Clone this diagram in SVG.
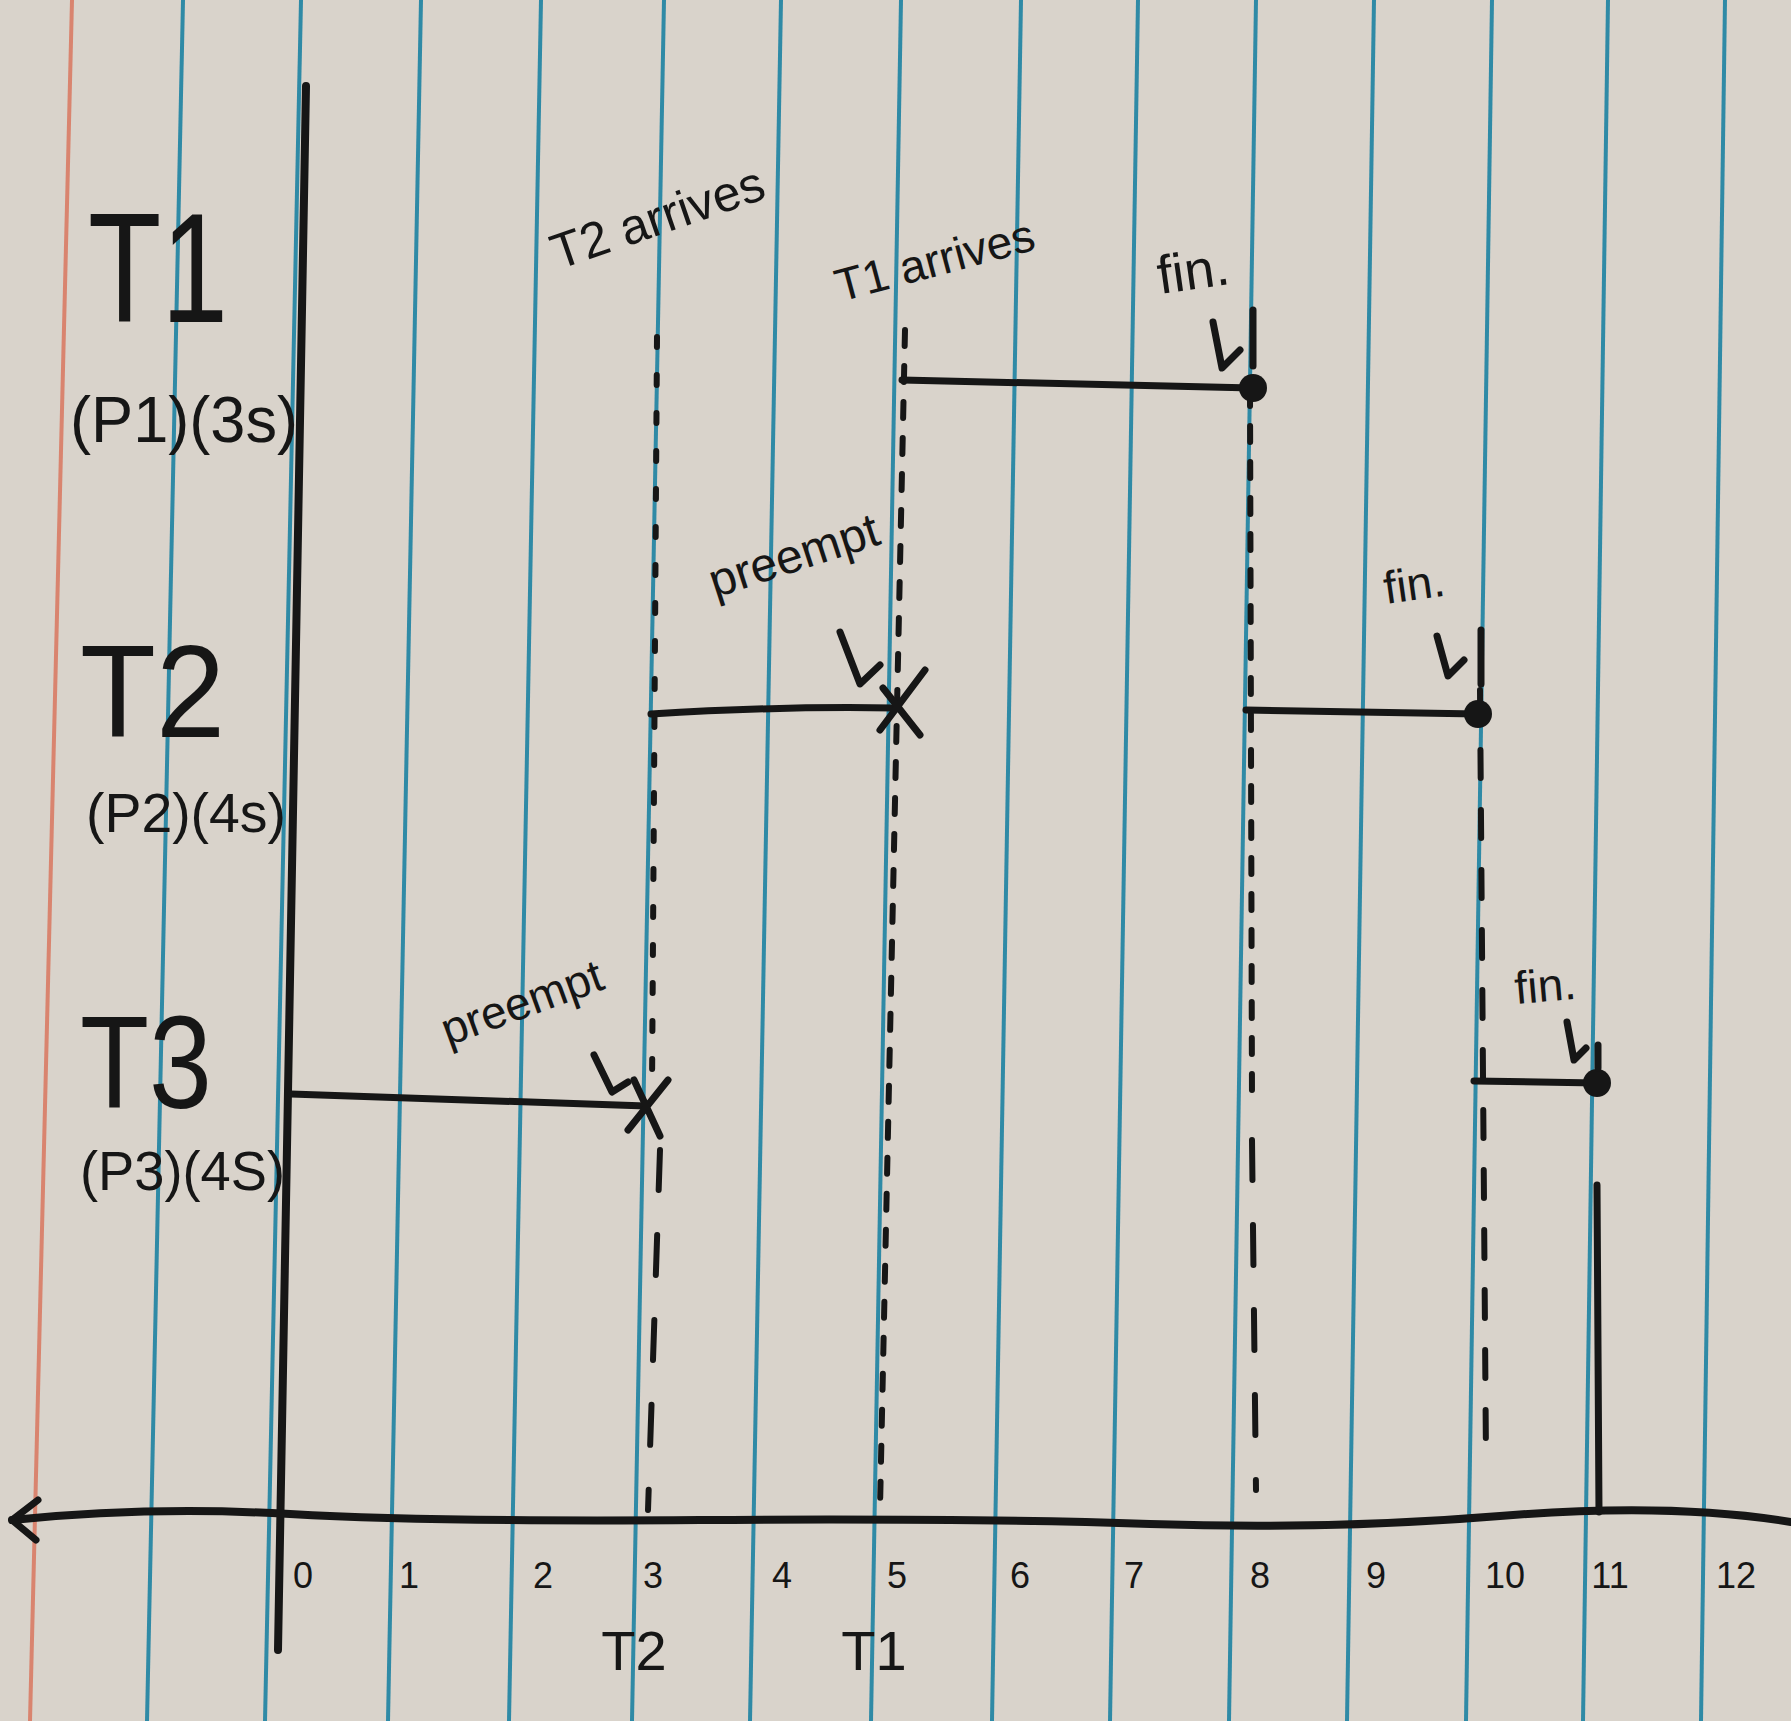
<svg xmlns="http://www.w3.org/2000/svg" width="1791" height="1721" viewBox="0 0 1791 1721">
<style>
.blue{stroke:#2f8aa6;stroke-width:4;fill:none}
.ink{stroke:#161616;stroke-width:7;fill:none;stroke-linecap:round;stroke-linejoin:round}
.dash1{stroke:#161616;stroke-width:6;fill:none;stroke-linecap:round;stroke-dasharray:10 28}
.dash2{stroke:#161616;stroke-width:6;fill:none;stroke-linecap:round;stroke-dasharray:40 45}
.dash3{stroke:#161616;stroke-width:6;fill:none;stroke-linecap:round;stroke-dasharray:16 20}
.hand{font-family:"Liberation Sans",sans-serif;fill:#161616}
.num{font-family:"Liberation Sans",sans-serif;fill:#161616;font-size:36px;text-anchor:middle}
</style>
<rect width="1791" height="1721" fill="#d9d3cb"/>
<g id="paper">
<line x1="72" y1="0" x2="30" y2="1721" stroke="#d9846f" stroke-width="4"/>
<line class="blue" x1="183" y1="0" x2="147" y2="1721"/>
<line class="blue" x1="301" y1="0" x2="265" y2="1721"/>
<line class="blue" x1="421" y1="0" x2="388" y2="1721"/>
<line class="blue" x1="541" y1="0" x2="509" y2="1721"/>
<line class="blue" x1="664" y1="0" x2="632" y2="1721"/>
<line class="blue" x1="781" y1="0" x2="750" y2="1721"/>
<line class="blue" x1="901" y1="0" x2="871" y2="1721"/>
<line class="blue" x1="1021" y1="0" x2="992" y2="1721"/>
<line class="blue" x1="1138" y1="0" x2="1110" y2="1721"/>
<line class="blue" x1="1256" y1="0" x2="1229" y2="1721"/>
<line class="blue" x1="1374" y1="0" x2="1347" y2="1721"/>
<line class="blue" x1="1492" y1="0" x2="1466" y2="1721"/>
<line class="blue" x1="1608" y1="0" x2="1583" y2="1721"/>
<line class="blue" x1="1725" y1="0" x2="1701" y2="1721"/>
</g>
<g id="axes">
<path class="ink" d="M306 86 L278 1650" style="stroke-width:8"/>
<path class="ink" d="M12 1520 Q 150 1506 290 1514 T 700 1520 T 1150 1524 T 1500 1516 T 1791 1522" style="stroke-width:8"/>
<path class="ink" d="M38 1500 L12 1520 L36 1540"/>
</g>
<g id="labels">
<text class="hand" x="88" y="322" font-size="155" textLength="140" lengthAdjust="spacingAndGlyphs">T1</text>
<text class="hand" x="70" y="442" font-size="64" textLength="228" lengthAdjust="spacingAndGlyphs">(P1)(3s)</text>
<text class="hand" x="80" y="737" font-size="132" textLength="145" lengthAdjust="spacingAndGlyphs">T2</text>
<text class="hand" x="86" y="832" font-size="56" textLength="200" lengthAdjust="spacingAndGlyphs">(P2)(4s)</text>
<text class="hand" x="80" y="1108" font-size="132" textLength="132" lengthAdjust="spacingAndGlyphs">T3</text>
<text class="hand" x="80" y="1190" font-size="56" textLength="205" lengthAdjust="spacingAndGlyphs">(P3)(4S)</text>
</g>
<g id="connectors">
<path class="dash1" d="M657 337 L652 1090"/>
<path class="dash2" d="M660 1150 L648 1510"/>
<path class="dash3" d="M905 330 L880 1508"/>
<path class="dash3" d="M1250 390 L1252 1100"/>
<path class="dash2" d="M1252 1140 L1256 1490"/>
<path class="dash3" d="M1480 690 L1486 1460" style="stroke-dasharray:28 32"/>
<path class="ink" d="M1597 1185 L1599 1512"/>
</g>
<g id="T1-bar">
<path class="ink" d="M902 380 L1253 388"/>
<circle cx="1253" cy="388" r="14" fill="#161616"/>
</g>
<g id="T2-bar1">
<path class="ink" d="M651 714 Q 780 706 895 708"/>
<path class="ink" d="M880 730 L925 670 M883 688 L920 735"/>
</g>
<g id="T2-bar2">
<path class="ink" d="M1246 710 L1478 714"/>
<circle cx="1478" cy="714" r="14" fill="#161616"/>
</g>
<g id="T3-bar1">
<path class="ink" d="M291 1094 Q 480 1100 646 1106"/>
<path class="ink" d="M628 1130 L668 1080 M634 1080 L660 1136"/>
</g>
<g id="T3-bar2">
<path class="ink" d="M1474 1081 L1597 1083"/>
<circle cx="1597" cy="1083" r="14" fill="#161616"/>
</g>
<g id="annotations">
<text class="hand" x="558" y="270" font-size="50" transform="rotate(-19 558 270)">T2 arrives</text>
<text class="hand" x="840" y="302" font-size="46" transform="rotate(-15 840 302)">T1 arrives</text>
<text class="hand" x="1160" y="294" font-size="54" transform="rotate(-8 1160 294)">fin.</text>
<path class="ink" d="M1213 322 L1222 368 L1240 350"/>
<path class="ink" d="M1253 310 L1253 366"/>
<text class="hand" x="715" y="598" font-size="48" transform="rotate(-18 715 598)">preempt</text>
<path class="ink" d="M840 632 L860 684 L880 665"/>
<text class="hand" x="1386" y="604" font-size="46" transform="rotate(-8 1386 604)">fin.</text>
<path class="ink" d="M1437 636 L1448 676 L1464 660"/>
<path class="ink" d="M1481 630 L1481 684"/>
<text class="hand" x="448" y="1046" font-size="46" transform="rotate(-20 448 1046)">preempt</text>
<path class="ink" d="M594 1055 L612 1092 L628 1082"/>
<text class="hand" x="1516" y="1004" font-size="46" transform="rotate(-5 1516 1004)">fin.</text>
<path class="ink" d="M1567 1022 L1574 1060 L1586 1048"/>
<path class="ink" d="M1598 1045 L1598 1068"/>
</g>
<g id="ticks">
<text class="num" x="303" y="1588">0</text>
<text class="num" x="409" y="1588">1</text>
<text class="num" x="543" y="1588">2</text>
<text class="num" x="653" y="1588">3</text>
<text class="num" x="782" y="1588">4</text>
<text class="num" x="897" y="1588">5</text>
<text class="num" x="1020" y="1588">6</text>
<text class="num" x="1134" y="1588">7</text>
<text class="num" x="1260" y="1588">8</text>
<text class="num" x="1376" y="1588">9</text>
<text class="num" x="1505" y="1588">10</text>
<text class="num" x="1610" y="1588">11</text>
<text class="num" x="1736" y="1588">12</text>
<text class="hand" x="634" y="1670" font-size="56" text-anchor="middle">T2</text>
<text class="hand" x="874" y="1670" font-size="56" text-anchor="middle">T1</text>
</g>
</svg>
